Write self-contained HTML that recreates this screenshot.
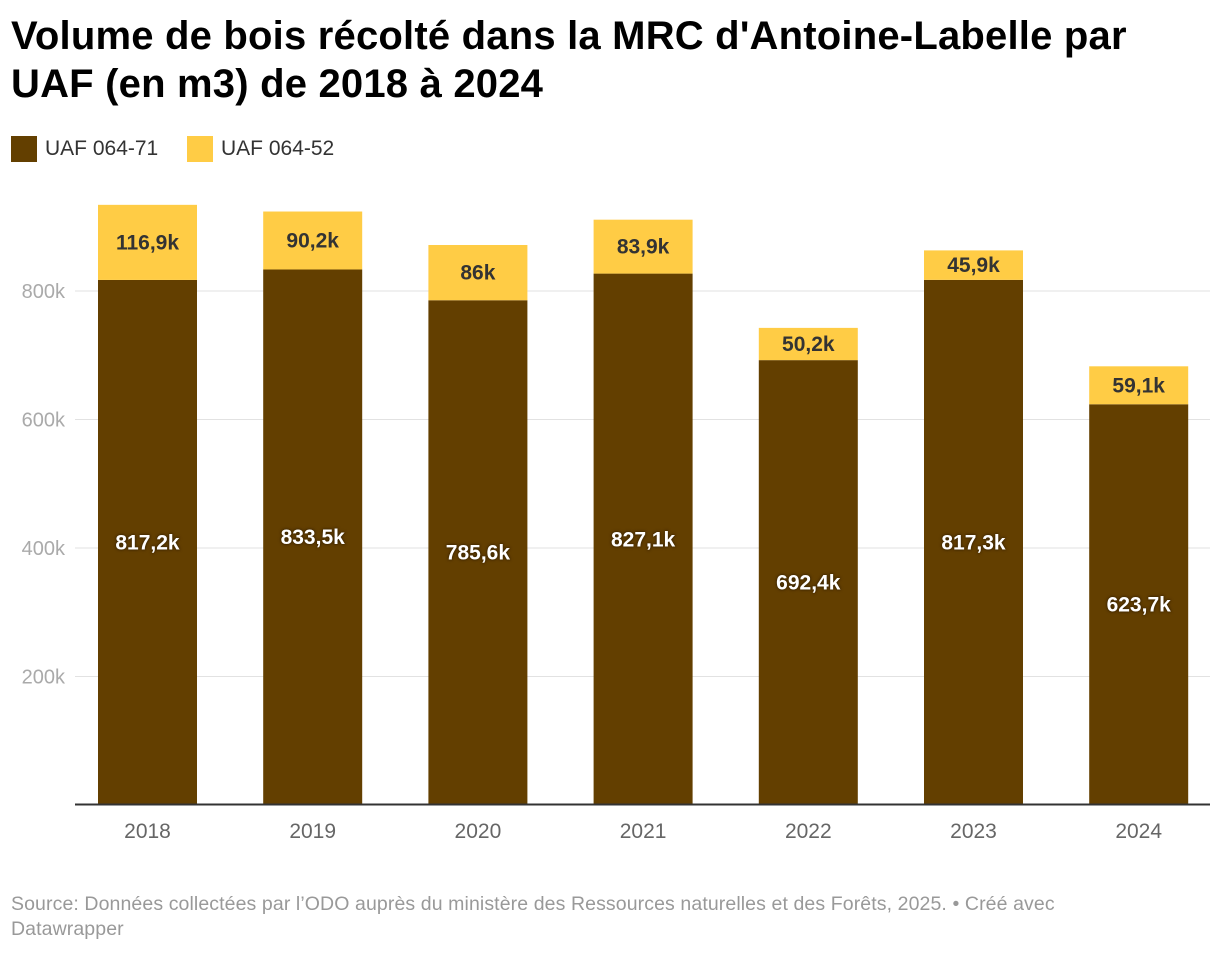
<!DOCTYPE html>
<html><head><meta charset="utf-8">
<style>
body{margin:0;background:#fff;font-family:"Liberation Sans",sans-serif;}
#wrap{position:relative;width:1220px;height:954px;overflow:hidden;}
h1{position:absolute;left:11px;top:12px;margin:0;font-size:40px;line-height:48px;font-weight:bold;color:#000;letter-spacing:0.2px;white-space:nowrap;}
.leg{position:absolute;top:136px;font-size:21px;color:#333;display:flex;align-items:center;}
.sw{width:26px;height:26px;margin-right:8px;display:inline-block;}
.src{position:absolute;left:11px;top:892px;font-size:19.5px;line-height:25px;color:#999;white-space:nowrap;letter-spacing:0.1px;}
svg{position:absolute;left:0;top:0;}
</style></head><body>
<div id="wrap">
<h1>Volume de bois récolté dans la MRC d'Antoine-Labelle par<br>UAF (en m3) de 2018 à 2024</h1>
<div class="leg" style="left:11px"><span class="sw" style="background:#633f00"></span>UAF 064-71</div>
<div class="leg" style="left:187px"><span class="sw" style="background:#ffcc45"></span>UAF 064-52</div>
<svg id="plot" width="1220" height="954"></svg>
<div class="src">Source: Données collectées par l’ODO auprès du ministère des Ressources naturelles et des Forêts, 2025. • Créé avec<br>Datawrapper</div>
</div>
<script>
const years=["2018","2019","2020","2021","2022","2023","2024"];
const uaf7171=[817.2,833.5,785.6,827.1,692.4,817.3,623.7];
const uaf6452=[116.9,90.2,86,83.9,50.2,45.9,59.1];
const ticks=[200,400,600,800];
const NS="http://www.w3.org/2000/svg";
const svg=document.getElementById('plot');
const y0=805,k=128.5/200;
const y=v=>y0-v*k;
const x=i=>98+i*165.2;
const bw=99;
const fmt=v=>(Math.round(v*10)/10).toString().replace('.',',')+'k';
function el(t,a,txt){const e=document.createElementNS(NS,t);for(const n in a)e.setAttribute(n,a[n]);if(txt!=null)e.textContent=txt;svg.appendChild(e);return e;}
ticks.forEach(t=>{
 const g=el('line',{x1:75,x2:1210,y1:y(t),y2:y(t),stroke:'#e2e2e2','stroke-width':1});
 
 
 const l=el('text',{x:65,y:y(t)+7,'text-anchor':'end','font-size':20,fill:'#aaa'},t+'k');
 
 
});
years.forEach((yr,i)=>{
 const a=uaf7171[i],b=uaf6452[i];
 const r1=el('rect',{x:x(i),y:y(a),width:bw,height:y0-y(a),fill:'#633f00'});
 
 
 const r2=el('rect',{x:x(i),y:y(a+b),width:bw,height:y(a)-y(a+b),fill:'#ffcc45'});
 
 
 const t1=el('text',{x:x(i)+bw/2,y:y(a/2)+7,'text-anchor':'middle','font-size':21,'font-weight':'bold',fill:'#fff',style:'text-shadow:0 0 3px #3a2400,0 0 2px #3a2400'},fmt(a));
 
 
 const t2=el('text',{x:x(i)+bw/2,y:(y(a)+y(a+b))/2+7,'text-anchor':'middle','font-size':21,'font-weight':'bold',fill:'#333'},fmt(b));
 
 
 const xl=el('text',{x:x(i)+bw/2,y:838,'text-anchor':'middle','font-size':21,fill:'#666'},yr);
 
 
});
const ax=el('line',{x1:75,x2:1210,y1:804.5,y2:804.5,stroke:'#333','stroke-width':2});


</script>
</body></html>
